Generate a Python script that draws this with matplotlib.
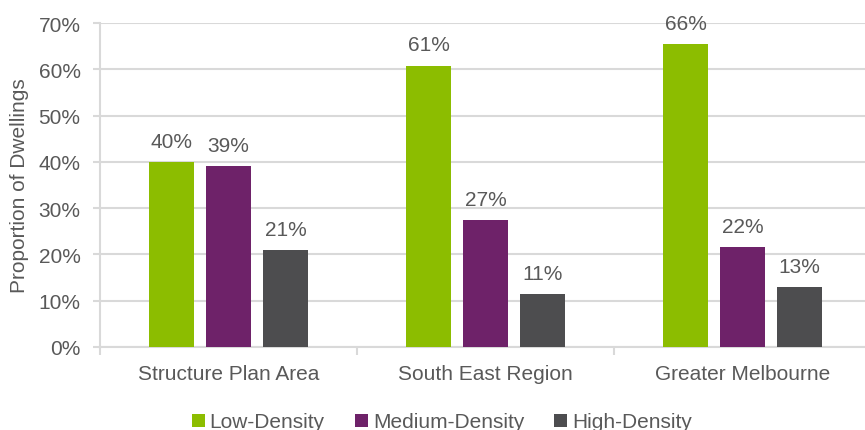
import matplotlib
matplotlib.use("Agg")
import matplotlib.pyplot as plt
import numpy as np
from matplotlib.ticker import PercentFormatter

categories = ["Structure Plan Area", "South East Region", "Greater Melbourne"]
series_names = ["Low-Density", "Medium-Density", "High-Density"]
low = [40.0, 60.8, 65.5]
medium = [39.1, 27.4, 21.6]
high = [21.0, 11.4, 12.9]
labels_low = ["40%", "61%", "66%"]
labels_medium = ["39%", "27%", "22%"]
labels_high = ["21%", "11%", "13%"]

colors = ["#8CBD00", "#6E2269", "#4D4D4F"]
text_color = "#595959"
grid_color = "#D9D9D9"
fs = 15

plt.rcParams['font.family'] = ['Liberation Sans', 'DejaVu Sans']

fig = plt.figure(figsize=(8.65, 4.31), dpi=100)
ax = fig.add_axes([100/865, 1-348/431, 771/865, (348-24)/431])

x = np.arange(len(categories))
w = 0.175
pitch = 0.222
for i, (vals, labs) in enumerate(zip([low, medium, high], [labels_low, labels_medium, labels_high])):
    xs = x + (i - 1) * pitch
    bars = ax.bar(xs, vals, width=w, color=colors[i], label=series_names[i], zorder=3)
    for b, lab in zip(bars, labs):
        ax.annotate(lab, (b.get_x() + b.get_width()/2, b.get_height()),
                    xytext=(0, 8), textcoords="offset points",
                    ha="center", va="bottom", fontsize=fs, color=text_color)

ax.set_xlim(-0.5, 2.5)
ax.set_ylim(0, 70)
ax.set_yticks(np.arange(0, 71, 10))
ax.yaxis.set_major_formatter(PercentFormatter(decimals=0))
ax.grid(axis="y", color=grid_color, linewidth=1.5, zorder=0)
ax.set_axisbelow(True)

ax.set_xticks(x)
ax.set_xticklabels(categories)
ax.set_xticks([-0.5, 0.5, 1.5], minor=True)
ax.tick_params(axis="x", which="major", length=0, pad=12, labelsize=fs, labelcolor=text_color)
ax.tick_params(axis="x", which="minor", length=6, color=grid_color, width=1.5)
ax.tick_params(axis="y", length=5, color=grid_color, width=1.5, labelsize=fs, labelcolor=text_color, pad=9)

for s in ["top", "right"]:
    ax.spines[s].set_visible(False)
for s in ["left", "bottom"]:
    ax.spines[s].set_color(grid_color)
    ax.spines[s].set_linewidth(1.5)

ax.set_ylabel("Proportion of Dwellings", fontsize=fs, color=text_color, labelpad=7)

fig.legend(loc="center", bbox_to_anchor=(442/865, 1-423/431), ncol=3, frameon=False,
           fontsize=fs, handlelength=0.6, handleheight=0.6, handletextpad=0.25,
           columnspacing=1.45, labelcolor=text_color)

fig.savefig("out.png", dpi=100)
